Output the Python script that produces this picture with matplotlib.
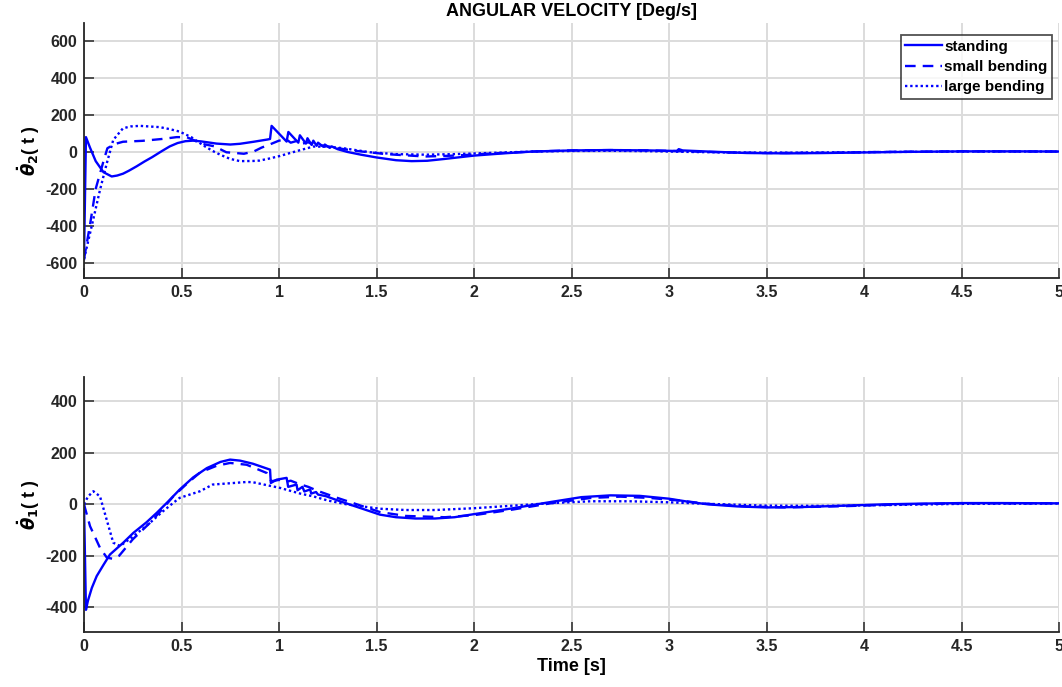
#!/usr/bin/env python3
"""Angular velocity, two joints, three postures (MATLAB-style subplot look)."""
import matplotlib
matplotlib.use("Agg")
import matplotlib.pyplot as plt
import numpy as np

BLUE, GRID, AXC = "#0000FF", "#DCDCDC", "#262626"
plt.rcParams["font.family"] = ["Liberation Sans", "DejaVu Sans"]
plt.rcParams["font.weight"] = "bold"
plt.rcParams["mathtext.fontset"] = "dejavusans"
plt.rcParams["axes.unicode_minus"] = False

# ---- theta2 dot (top) ----
t2_stand = [0, 0.01, 0.03, 0.06, 0.1, 0.142, 0.17, 0.2, 0.23, 0.27, 0.31, 0.35, 0.4, 0.44, 0.48, 0.52, 0.56,
            0.6, 0.68, 0.75, 0.8, 0.87, 0.94, 0.954,
            0.962, 1.039, 1.048, 1.099, 1.107, 1.138, 1.146, 1.167, 1.176, 1.193, 1.2, 1.227, 1.235, 1.26, 1.27,
            1.3, 1.35, 1.42, 1.5, 1.6, 1.68, 1.76, 1.85, 2.0, 2.15, 2.3, 2.5, 2.7, 2.9, 3.04, 3.05, 3.07, 3.2,
            3.4, 3.6, 3.8, 4.0, 4.2, 4.5, 4.8, 5.0]
v2_stand = [-580, 80, 25, -50, -110, -133, -128, -118, -102, -78, -52, -28, 5, 30, 48, 58, 61,
            57, 45, 40, 44, 55, 67, 70,
            141, 56, 108, 50, 90, 45, 74, 38, 61, 33, 50, 28, 40, 22, 30,
            15, 0, -15, -30, -45, -50, -48, -38, -20, -8, 2, 8, 10, 8, 5, 15, 8, 2,
            -6, -8, -6, -3, 0, 3, 3, 2]
t2_small = [0, 0.03, 0.06, 0.1, 0.12, 0.159, 0.2, 0.3, 0.4, 0.475, 0.526, 0.56, 0.6, 0.67, 0.73, 0.765,
            0.82, 0.87, 0.91, 0.954, 1.0, 1.04, 1.06, 1.1, 1.12, 1.15, 1.18, 1.22, 1.3, 1.4, 1.55, 1.75,
            1.9, 2.1, 2.3, 2.5, 2.7, 2.9, 3.1, 3.3, 3.5, 3.8, 4.1, 4.5, 5.0]
v2_small = [-580, -400, -200, -50, 20, 43, 55, 60, 70, 80, 80, 65, 45, 30, -2, -5,
            -10, 2, 23, 41, 61, 66, 50, 62, 45, 52, 38, 35, 20, 5, -12, -25,
            -20, -8, 2, 8, 10, 8, 3, -3, -6, -5, 0, 3, 2]
t2_large = [0, 0.039, 0.082, 0.117, 0.15, 0.2, 0.24, 0.287, 0.39, 0.441, 0.49, 0.55, 0.612, 0.66, 0.7, 0.75,
            0.8, 0.868, 0.9, 0.95, 1.005, 1.05, 1.1, 1.176, 1.25, 1.33, 1.467, 1.6, 1.75, 1.9, 2.1, 2.3, 2.5,
            2.7, 2.9, 3.1, 3.3, 3.6, 3.9, 4.2, 4.6, 5.0]
v2_large = [-580, -404, -206, -61, 65, 128, 138, 141, 134, 123, 110, 80, 35, 5, -16, -38,
            -50, -49, -47, -36, -22, -8, 7, 29, 28, 20, -2, -12, -15, -12, -5, 2, 5,
            6, 4, 0, -3, -4, -2, 0, 2, 2]

# ---- theta1 dot (bottom) ----
t1_stand = [0, 0.01, 0.02, 0.04, 0.065, 0.1, 0.133, 0.17, 0.2, 0.253, 0.32, 0.373, 0.43, 0.49, 0.56, 0.63,
            0.7, 0.749, 0.8, 0.866, 0.954, 0.958, 0.988, 1.039, 1.047, 1.09, 1.095, 1.12, 1.13, 1.16, 1.165,
            1.19, 1.2, 1.24, 1.313, 1.4, 1.518, 1.6, 1.7, 1.8, 1.9, 2.0, 2.2, 2.4, 2.55, 2.7, 2.85, 3.0,
            3.1, 3.2, 3.35, 3.5, 3.7, 3.9, 4.1, 4.3, 4.5, 4.7, 5.0]
v1_stand = [0, -410, -375, -325, -279, -235, -195, -170, -150, -111, -70, -33, 10, 57, 105, 141,
            165, 174, 170, 158, 135, 83, 96, 103, 68, 77, 55, 68, 50, 58, 42,
            48, 38, 32, 12, -10, -40, -50, -55, -55, -50, -38, -15, 10, 28, 35, 33, 22,
            10, 0, -8, -12, -10, -5, 0, 3, 5, 5, 4]
t1_small = [0, 0.031, 0.082, 0.117, 0.15, 0.18, 0.25, 0.338, 0.4, 0.458, 0.52, 0.595, 0.68, 0.749, 0.834,
            0.937, 0.96, 1.0, 1.04, 1.06, 1.1, 1.15, 1.2, 1.3, 1.4, 1.518, 1.65, 1.85, 2.0, 2.2, 2.4,
            2.6, 2.75, 2.9, 3.05, 3.2, 3.4, 3.6, 3.9, 4.2, 4.5, 5.0]
v1_small = [0, -85, -169, -207, -212, -200, -136, -72, -20, 31, 75, 124, 150, 161, 154,
            122, 90, 95, 88, 92, 80, 68, 52, 25, 0, -30, -45, -50, -42, -20, 5,
            25, 30, 25, 15, 2, -8, -12, -7, 0, 4, 4]
t1_large = [0, 0.02, 0.048, 0.082, 0.116, 0.15, 0.185, 0.253, 0.338, 0.4, 0.458, 0.49, 0.595, 0.66, 0.766,
            0.834, 0.866, 1.005, 1.108, 1.176, 1.25, 1.347, 1.518, 1.65, 1.8, 2.0, 2.2, 2.4, 2.6, 2.8,
            3.0, 3.2, 3.5, 3.8, 4.1, 4.5, 5.0]
v1_large = [0, 30, 51, 31, -59, -149, -162, -124, -72, -30, 6, 25, 51, 77, 83,
            87, 86, 64, 42, 31, 15, 0, -17, -22, -22, -15, -5, 5, 12, 12,
            8, 2, -5, -6, -3, 2, 3]

LABELS = ["standing", "small bending", "large bending"]
STYLES = ["-", (0, (4.5, 3)), (0, (1, 1.2))]


def _style(ax, ylim, yticks):
    ax.set_xlim(0, 5)
    ax.set_ylim(*ylim)
    ax.set_xticks(np.arange(0, 5.01, 0.5))
    ax.set_xticklabels(["0", "0.5", "1", "1.5", "2", "2.5", "3", "3.5", "4", "4.5", "5"])
    ax.set_yticks(yticks)
    ax.grid(True, color=GRID, lw=1.4)
    ax.set_axisbelow(True)
    for s in ["top", "right"]:
        ax.spines[s].set_visible(False)
    for s in ["left", "bottom"]:
        ax.spines[s].set_color(AXC)
        ax.spines[s].set_linewidth(1.3)
    ax.tick_params(direction="in", length=7.5, width=1.1, color=AXC, labelsize=11.5,
                   labelcolor=AXC, pad=5)
    for lab in ax.get_xticklabels() + ax.get_yticklabels():
        lab.set_fontweight("bold")


fig = plt.figure(figsize=(10.62, 6.87), dpi=100)
ax1 = fig.add_axes([0.0791, 0.5953, 0.9181, 0.3712])
ax2 = fig.add_axes([0.0791, 0.0805, 0.9181, 0.3707])

for (t, v), ls, lab in zip([(t2_stand, v2_stand), (t2_small, v2_small), (t2_large, v2_large)], STYLES, LABELS):
    ax1.plot(t, v, color=BLUE, lw=1.7, ls=ls, label=lab)
for (t, v), ls in zip([(t1_stand, v1_stand), (t1_small, v1_small), (t1_large, v1_large)], STYLES):
    ax2.plot(t, v, color=BLUE, lw=1.7, ls=ls)

_style(ax1, (-683, 698), [-600, -400, -200, 0, 200, 400, 600])
_style(ax2, (-495, 495), [-400, -200, 0, 200, 400])

ax1.set_title("ANGULAR VELOCITY [Deg/s]", fontsize=13, fontweight="bold", pad=5)
ax1.set_ylabel(r"$\dot{\theta}_{\mathbf{2}}$( t )", fontsize=13, fontweight="bold", labelpad=2)
ax2.set_ylabel(r"$\dot{\theta}_{\mathbf{1}}$( t )", fontsize=13, fontweight="bold", labelpad=2)
ax2.set_xlabel("Time [s]", fontsize=13, fontweight="bold", labelpad=3)

leg = fig.legend(loc="upper right", bbox_to_anchor=(0.9906, 0.949), fontsize=11, frameon=True,
                 fancybox=False, handlelength=2.4, handletextpad=0.15, labelspacing=0.42,
                 borderpad=0.3, borderaxespad=0)
leg.get_frame().set_edgecolor(AXC)
leg.get_frame().set_linewidth(1.3)
for txt in leg.get_texts():
    txt.set_fontweight("bold")

fig.savefig("out.png", dpi=100, facecolor="white")
